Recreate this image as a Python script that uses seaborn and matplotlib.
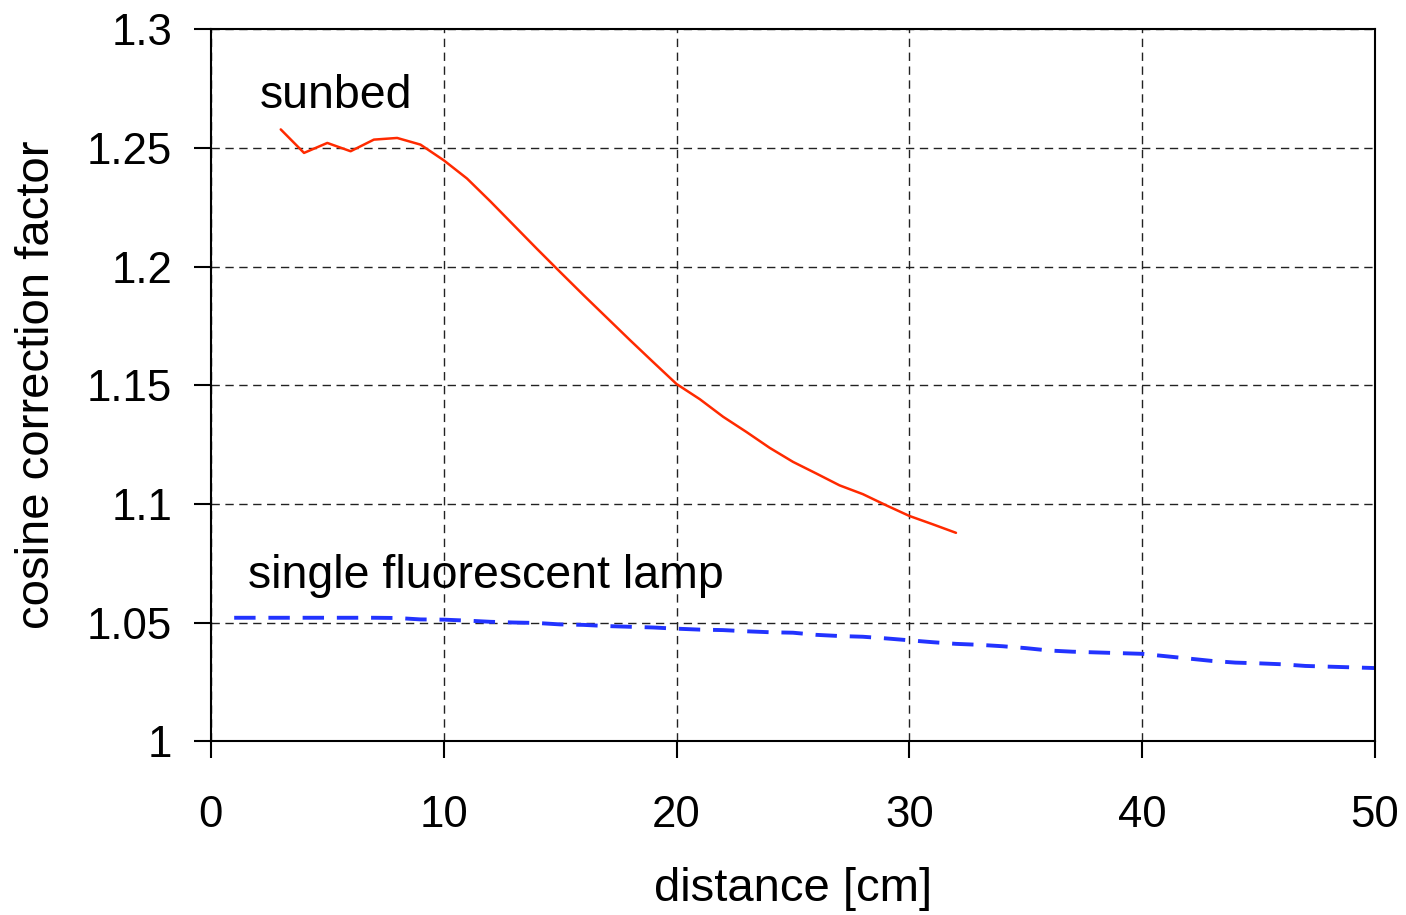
import numpy as np
import pandas as pd
import matplotlib
matplotlib.use("Agg")
import matplotlib.pyplot as plt
import seaborn as sns

# sunbed curve, 3..32 cm
sunbed_x = list(range(3, 33))
sunbed_y = [1.2578, 1.2479, 1.2521, 1.2486, 1.2535, 1.2542, 1.2514, 1.2448, 1.2371, 1.2275,
            1.2175, 1.2075, 1.1977, 1.1880, 1.1785, 1.1690, 1.1597, 1.1505, 1.1441, 1.1367,
            1.1303, 1.1236, 1.1177, 1.1128, 1.1078, 1.1041, 1.0994, 1.0949, 1.0914, 1.0878]

# single fluorescent lamp, 1..50 cm
lamp_x = list(range(1, 51))
lamp_y = [1.0520, 1.0520, 1.0520, 1.0520, 1.0520, 1.0520, 1.0520, 1.0519, 1.0513, 1.0512,
          1.0508, 1.0503, 1.0500, 1.0498, 1.0492, 1.0490, 1.0485, 1.0482, 1.0479, 1.0474,
          1.0470, 1.0468, 1.0463, 1.0459, 1.0457, 1.0448, 1.0443, 1.0440, 1.0433, 1.0425,
          1.0417, 1.0410, 1.0406, 1.0400, 1.0392, 1.0382, 1.0377, 1.0374, 1.0371, 1.0368,
          1.0358, 1.0348, 1.0338, 1.0331, 1.0328, 1.0324, 1.0317, 1.0314, 1.0311, 1.0308]

x_ticks = [0, 10, 20, 30, 40, 50]
y_ticks = [1.0, 1.05, 1.1, 1.15, 1.2, 1.25, 1.3]
y_labels = ["1", "1.05", "1.1", "1.15", "1.2", "1.25", "1.3"]

sun = pd.DataFrame({"distance": sunbed_x, "factor": sunbed_y})
lamp = pd.DataFrame({"distance": lamp_x, "factor": lamp_y})

sns.set_style("white")
plt.rcParams["font.family"] = ["Liberation Sans", "DejaVu Sans"]
plt.rcParams["text.color"] = "black"
plt.rcParams["axes.labelcolor"] = "black"
plt.rcParams["xtick.color"] = "black"
plt.rcParams["ytick.color"] = "black"

fig = plt.figure(figsize=(14.06, 9.15), dpi=100)
ax = fig.add_axes([0.150, 0.190, 0.828, 0.778])

sns.lineplot(data=sun, x="distance", y="factor", ax=ax, color="#ff2a00", lw=1.8)
sns.lineplot(data=lamp, x="distance", y="factor", ax=ax, color="#2233ff", lw=2.8,
             dashes=False)
ax.lines[-1].set_dashes((5.5, 3.3))

ax.set_xlim(0, 50)
ax.set_ylim(1.0, 1.3)
ax.set_xticks(x_ticks)
ax.set_yticks(y_ticks)
ax.set_yticklabels(y_labels)
ax.grid(True, color="#222222", ls=(0, (6, 4)), lw=1.0)
ax.set_axisbelow(True)
for s in ax.spines.values():
    s.set_color("black")
    s.set_linewidth(1.5)
ax.tick_params(axis="both", direction="out", length=12, width=1.5, color="black",
               labelcolor="black", labelsize=31.5, bottom=True, left=True)
ax.tick_params(axis="x", pad=27)
ax.tick_params(axis="y", pad=16)

ax.set_xlabel("distance [cm]", fontsize=34, labelpad=22, color="black")
ax.set_ylabel("cosine correction factor", fontsize=34, labelpad=20, color="black")

ax.text(2.1, 1.2667, "sunbed", fontsize=33.5, ha="left", va="baseline", color="black")
ax.text(1.59, 1.0645, "single fluorescent lamp", fontsize=33.5, ha="left", va="baseline",
        color="black")

fig.savefig("out.png", dpi=100)
